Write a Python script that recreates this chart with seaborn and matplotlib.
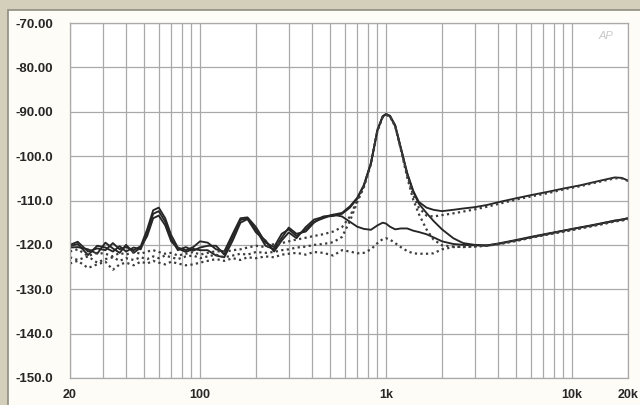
import numpy as np
import pandas as pd
import matplotlib
matplotlib.use("Agg")
import matplotlib.pyplot as plt
import matplotlib.ticker as mticker
import seaborn as sns

freq = [20, 22, 25, 28, 31, 34, 37, 40, 44, 48, 52, 56, 60, 65, 70, 76, 84, 92, 100, 110,
        122, 135, 150, 165, 180, 200, 225, 250, 275, 300, 330, 370, 410, 460, 520, 580, 640,
        700, 760, 830, 900, 960, 1000, 1050, 1120, 1200, 1300, 1400, 1500, 1650, 1800, 2000,
        2300, 2600, 3000, 3500, 4000, 5000, 6000, 7500, 9000, 11000, 13000, 15000, 17000,
        18500, 20000]

solid_a = [-120.0, -119.3, -121.5, -120.8, -121.2, -119.6, -121.0, -120.5, -121.2, -120.3,
           -116.5, -112.2, -111.6, -114.0, -117.8, -120.6, -121.2, -120.5, -119.2, -119.5,
           -121.0, -121.5, -117.5, -114.0, -113.8, -116.0, -119.5, -120.5, -117.5, -116.5,
           -118.0, -116.5, -114.8, -114.0, -113.2, -112.8, -111.3, -109.4, -106.5, -101.5,
           -94.0, -91.0, -90.5, -90.9, -93.0, -98.0, -103.8, -107.8, -110.3, -111.6, -112.1,
           -112.4, -112.1, -111.8, -111.5, -111.0, -110.4, -109.5, -108.8, -108.0, -107.3,
           -106.6, -105.9, -105.3, -104.8, -104.9, -105.5]
solid_b = [-120.3, -119.8, -122.3, -120.2, -120.6, -121.5, -120.3, -121.5, -120.6, -121.0,
           -117.2, -113.0, -112.4, -114.8, -118.6, -121.2, -120.5, -121.3, -120.6, -120.2,
           -120.2, -122.2, -118.2, -114.4, -114.0, -116.6, -120.2, -121.0, -118.4, -116.1,
           -117.5, -117.0, -115.0, -113.6, -113.5, -113.0, -111.6, -109.6, -106.7, -101.7,
           -94.2, -91.1, -90.6, -91.0, -93.2, -98.2, -104.0, -108.0, -110.7, -112.8, -114.6,
           -116.5, -118.5, -119.6, -120.0, -120.1, -119.7, -118.9, -118.2, -117.4, -116.8,
           -116.1, -115.5, -115.0, -114.5, -114.3, -114.0]
solid_c = [-120.6, -120.5, -121.0, -122.0, -119.5, -120.8, -121.8, -120.0, -121.8, -120.6,
           -118.0, -114.0, -113.4, -115.6, -119.2, -120.8, -121.6, -120.9, -121.2, -121.2,
           -122.4, -122.8, -119.0, -115.0, -114.2, -117.2, -119.0, -121.5, -119.0, -117.2,
           -118.5, -116.0, -114.3, -113.7, -113.2, -113.6, -114.8, -115.9, -116.4, -116.6,
           -115.6, -115.0, -115.2, -115.9, -116.5, -116.3, -116.3, -116.8, -117.1, -117.6,
           -118.3, -119.2, -119.8, -120.0, -120.1, -120.2, -119.8, -119.0, -118.3, -117.5,
           -116.8, -116.1, -115.6, -115.0, -114.6, -114.3, -114.0]
dotted_a = [-121.5, -121.0, -122.5, -121.8, -122.0, -122.6, -121.8, -122.2, -121.6, -122.0,
            -121.5, -121.2, -121.6, -122.0, -121.8, -122.4, -122.0, -121.6, -122.2, -121.8,
            -121.4, -121.6, -121.2, -121.0, -120.6, -120.2, -120.5, -119.8, -119.6, -119.2,
            -118.8, -118.4, -118.0, -117.6, -117.0, -116.0, -113.6, -110.0, -106.8, -101.6,
            -94.1, -91.1, -90.6, -91.0, -93.2, -98.2, -104.3, -108.8, -111.6, -113.4, -113.6,
            -113.3, -112.9, -112.5, -112.0, -111.4, -110.8, -109.8, -109.1, -108.3, -107.5,
            -106.8, -106.1, -105.5, -105.0, -105.0, -105.6]
dotted_b = [-122.8, -123.4, -122.6, -124.0, -123.2, -122.8, -123.6, -123.0, -123.4, -122.8,
            -123.2, -122.6, -123.0, -122.4, -122.8, -123.2, -122.6, -122.4, -123.0, -122.6,
            -122.2, -122.8, -122.4, -122.0, -122.2, -121.6, -121.8, -121.6, -121.2, -121.0,
            -120.6, -120.4, -120.0, -119.8, -119.4, -118.2, -114.6, -110.4, -107.0, -101.8,
            -94.3, -91.2, -90.7, -91.1, -93.3, -98.4, -104.8, -109.8, -113.0, -116.5, -118.8,
            -120.1, -120.4, -120.5, -120.4, -120.2, -119.8, -119.1, -118.4, -117.6, -117.0,
            -116.3, -115.7, -115.2, -114.7, -114.5, -114.2]
dotted_c = [-124.2, -123.6, -125.2, -124.4, -123.8, -125.6, -124.4, -124.0, -124.6, -123.8,
            -124.2, -123.6, -124.0, -124.4, -123.8, -124.2, -124.6, -124.4, -124.0, -123.6,
            -123.2, -123.6, -123.0, -123.4, -122.8, -123.0, -122.6, -122.8, -122.2, -122.0,
            -121.8, -122.2, -121.6, -121.8, -122.4, -121.2, -121.5, -121.9, -121.8, -121.0,
            -119.6, -118.7, -118.5, -118.8, -119.6, -120.5, -121.4, -121.9, -122.0, -122.0,
            -121.9, -121.0, -120.5, -120.4, -120.3, -120.1, -119.9, -119.1, -118.4, -117.6,
            -117.0, -116.3, -115.7, -115.2, -114.7, -114.5, -114.2]

y_ticks = [-70, -80, -90, -100, -110, -120, -130, -140, -150]
y_labels = ["-70.00", "-80.00", "-90.00", "-100.0", "-110.0", "-120.0", "-130.0", "-140.0", "-150.0"]
x_ticks = [20, 100, 1000, 10000, 20000]
x_labels = ["20", "100", "1k", "10k", "20k"]

series = [("solid_a", solid_a, "solid"), ("solid_b", solid_b, "solid"), ("solid_c", solid_c, "solid"),
          ("dotted_a", dotted_a, "dotted"), ("dotted_b", dotted_b, "dotted"), ("dotted_c", dotted_c, "dotted")]

frames = []
for name, vals, sty in series:
    frames.append(pd.DataFrame({"freq": freq, "level": vals, "series": name, "kind": sty}))
df = pd.concat(frames, ignore_index=True)

sns.set_style("white")
plt.rcParams["font.family"] = ["Liberation Sans", "DejaVu Sans"]

fig = plt.figure(figsize=(6.4, 4.05), dpi=100, facecolor="#d3cfbb")
# inner panel
panel = plt.Rectangle((8 / 640, -0.01), 633 / 640, 1.01 - 10 / 405, transform=fig.transFigure,
                      facecolor="#fdfcf6", edgecolor="#8f8c80", linewidth=1.2, zorder=-10)
fig.add_artist(panel)
ax = fig.add_axes([70 / 640, 1 - 378 / 405, 558 / 640, 355 / 405])
ax.set_zorder(5)
ax.set_facecolor("white")

grid_c = "#a9a9a9"
ax.set_xscale("log")
ax.set_xlim(20, 20000)
ax.set_ylim(-150, -70)

for name, vals, sty in series:
    sub = df[df["series"] == name]
    if sty == "solid":
        sns.lineplot(data=sub, x="freq", y="level", ax=ax, color="#262626", linewidth=1.35,
                     linestyle="-", legend=False, estimator=None, sort=False)
    else:
        sns.lineplot(data=sub, x="freq", y="level", ax=ax, color="#3c3c3c", linewidth=1.6,
                     linestyle=(0, (1, 1.5)), legend=False, estimator=None, sort=False)

ax.set_xticks(x_ticks)
ax.set_xticklabels(x_labels)
ax.xaxis.set_minor_locator(mticker.LogLocator(base=10, subs=np.arange(2, 10)))
ax.xaxis.set_minor_formatter(mticker.NullFormatter())
ax.set_yticks(y_ticks)
ax.set_yticklabels(y_labels)
ax.grid(True, which="both", axis="x", color=grid_c, linewidth=0.9)
ax.grid(True, which="major", axis="y", color=grid_c, linewidth=0.9)
ax.set_axisbelow(True)
ax.tick_params(axis="both", which="both", length=0)
ax.tick_params(axis="y", pad=12, labelsize=9.5, labelcolor="#262626")
ax.tick_params(axis="x", pad=8, labelsize=9, labelcolor="#262626")
for lab in ax.get_xticklabels() + ax.get_yticklabels():
    lab.set_fontweight("bold")
ax.set_xlabel("")
ax.set_ylabel("")
for s in ax.spines.values():
    s.set_color(grid_c)
    s.set_linewidth(0.9)

ax.text(606 / 640, 1 - 36 / 405, "AP", transform=fig.transFigure, fontsize=8, color="#c8c8c8",
        style="italic", ha="center", va="center")

fig.savefig("out.png", dpi=100, facecolor=fig.get_facecolor())
